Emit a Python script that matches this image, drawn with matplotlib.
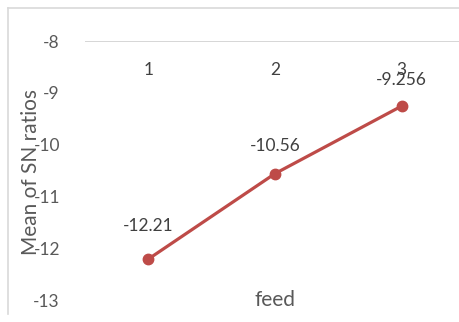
import numpy as np
from matplotlib import pyplot as plt
from matplotlib.lines import Line2D

plt.rcParams['font.family'] = ['Lato', 'DejaVu Sans']

levels = ['1', '2', '3']
sn_means = [-12.21, -10.56, -9.256]
sn_labels = ['-12.21', '-10.56', '-9.256']
label_offsets = [24, 20, 19]

fig = plt.figure(figsize=(4.59, 3.22), dpi=100)
ax = fig.add_axes([85/459, 1-300/322, 380/459, 259/322])

x = np.arange(1, len(levels) + 1)
ax.plot(x, sn_means, color='#BE4B48', lw=2.3, marker='o', ms=7.5, solid_capstyle='round')

for xi, v, lab, off in zip(x, sn_means, sn_labels, label_offsets):
    ax.annotate(lab, (xi, v), xytext=(0, off), textcoords='offset points',
                ha='center', va='center', fontsize=12.5, color='#404040')

ax.set_xlim(0.5, 3.5)
ax.set_ylim(-13, -8)
ax.set_yticks([-13, -12, -11, -10, -9, -8])
ax.set_yticklabels(['-13', '-12', '-11', '-10', '-9', '-8'])
ax.tick_params(axis='y', length=0, labelsize=12.5, labelcolor='#595959', pad=18)
ax.set_xticks([])
ax.axhline(-8, color='#d0d0d0', lw=1.2)

# category labels sit just under the axis line at the top
for xi, lab in zip(x, levels):
    ax.annotate(lab, (xi, -8), xytext=(0, -21), textcoords='offset points',
                ha='center', va='center', fontsize=12.5, color='#404040')

for s in ax.spines.values():
    s.set_visible(False)

fig.text(275/459, 1-300/322, 'feed', ha='center', va='center', fontsize=15, color='#595959')
fig.text(31/459, 1-172/322, 'Mean of SN ratios', rotation=90, ha='center', va='center',
         fontsize=15, color='#595959')

# chart area border
fig.add_artist(Line2D([8/459, 8/459], [1-314/322, 1-8/322], color='#d9d9d9', lw=1.2))
fig.add_artist(Line2D([8/459, 1], [1-8/322, 1-8/322], color='#d9d9d9', lw=1.2))

fig.savefig('out.png', dpi=100)
